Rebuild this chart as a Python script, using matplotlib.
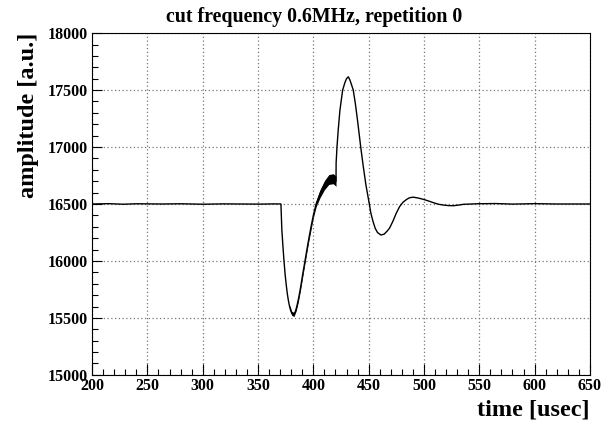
import matplotlib
matplotlib.use("Agg")
import matplotlib.pyplot as plt
from matplotlib.ticker import MultipleLocator

plt.rcParams["font.family"] = ["Liberation Serif", "DejaVu Serif"]
plt.rcParams["font.weight"] = "bold"

# waveform (time in usec, amplitude in a.u.)
time_us = [200, 215, 228, 240, 262, 280, 300, 318, 335, 352, 365, 370.7,
           371.5, 372.5, 373.4, 374.5, 375.5, 376.5, 377.5, 378.5, 379.5, 380.5,
           381.5, 382.5, 383.5, 384.5, 385.5, 386.5, 387.5, 388.5, 390, 392,
           394, 396, 398, 400, 402.5, 406, 408, 410, 412, 414, 416, 418, 420.5,
           420.6, 421.4, 422.5, 424, 426.5, 428.5, 430, 431.6, 433, 434.5, 436.1,
           438, 440, 442.8, 445, 447.5, 450.5, 452, 454, 456, 458, 461, 464,
           467, 469, 472, 475, 478, 481, 484.3, 487, 490.3, 495, 499.4, 504,
           508.4, 513, 517.4, 522, 526.5, 531, 535.5, 548, 565, 580, 600, 620, 650]
amplitude = [16500, 16503, 16498, 16502, 16500, 16502, 16498, 16501, 16500, 16499, 16501, 16500,
             16280, 16130, 16010, 15880, 15790, 15710, 15650, 15600, 15565, 15540,
             15528, 15530, 15550, 15580, 15620, 15665, 15715, 15770, 15860, 15975,
             16090, 16200, 16305, 16400, 16500, 16590, 16630, 16665, 16695, 16715, 16725, 16722, 16700,
             16860, 17003, 17150, 17320, 17500, 17565, 17600, 17617, 17590, 17548, 17500,
             17380, 17230, 17003, 16840, 16670, 16506, 16420, 16345, 16285, 16250, 16228, 16235,
             16265, 16290, 16350, 16420, 16477, 16515, 16540, 16555, 16560, 16552, 16541, 16527,
             16512, 16498, 16491, 16486, 16485, 16490, 16497, 16502, 16504, 16499, 16503, 16500, 16500]

# envelope of the fast ripple riding on the signal
band_t = [378.5, 380.5, 382.5, 384.5, 386.5, 388.5, 392, 396, 400, 402.5, 406, 410, 414, 418, 420.5]
band_lo = [15585, 15522, 15512, 15562, 15645, 15750, 15955, 16180, 16380, 16475, 16555, 16625, 16672, 16678, 16655]
band_hi = [15615, 15558, 15548, 15598, 15685, 15790, 15995, 16220, 16420, 16525, 16625, 16705, 16758, 16766, 16745]

title = "cut frequency 0.6MHz, repetition 0"
x_label = "time [usec]"
y_label = "amplitude [a.u.]"

fig = plt.figure(figsize=(6.1, 4.25), dpi=100)
ax = fig.add_axes([0.151, 0.118, 0.816, 0.804])

ax.fill_between(band_t, band_lo, band_hi, color="black", linewidth=0)
ax.plot(time_us, amplitude, color="black", linewidth=1.0)

ax.set_xlim(200, 650)
ax.set_ylim(15000, 18000)
ax.xaxis.set_major_locator(MultipleLocator(50))
ax.xaxis.set_minor_locator(MultipleLocator(10))
ax.yaxis.set_major_locator(MultipleLocator(500))
ax.yaxis.set_minor_locator(MultipleLocator(100))
ax.tick_params(which="both", direction="in", top=False, right=False, labelsize=11.5, width=0.8)
ax.tick_params(axis="x", which="major", length=8, pad=2)
ax.tick_params(axis="y", which="major", length=7, pad=3)
ax.tick_params(which="minor", length=4)
ax.grid(True, which="major", linestyle=(0, (1, 2)), color="#777777", linewidth=0.9)
for s in ax.spines.values():
    s.set_linewidth(0.8)

fig.text(0.515, 1 - 17 / 425, title, fontsize=14.3, fontweight="bold", ha="center", va="center")
ax.set_xlabel(x_label, fontsize=17.5, fontweight="bold", loc="right", labelpad=4)
ax.set_ylabel(y_label, fontsize=17.5, fontweight="bold", loc="top", labelpad=6)

fig.savefig("out.png", dpi=100)
